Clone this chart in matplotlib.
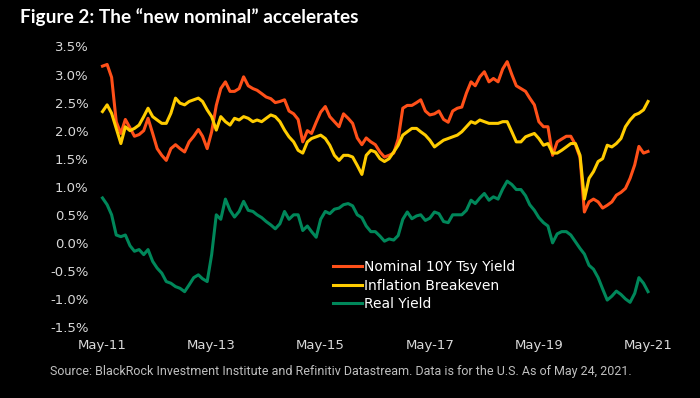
import matplotlib
matplotlib.use('Agg')
import matplotlib.pyplot as plt
import pandas as pd

# ---- data (monthly, May 2011 - May 2021), % ----
start_month = '2011-05-01'
nominal = [3.15, 3.18, 2.95, 2.16, 1.95, 2.20, 2.05, 1.90, 1.93, 2.00,
           2.22, 1.95, 1.68, 1.56, 1.47, 1.68, 1.75, 1.68, 1.62, 1.80,
           1.90, 2.02, 1.90, 1.68, 1.98, 2.45, 2.75, 2.87, 2.70, 2.70,
           2.75, 2.96, 2.80, 2.75, 2.72, 2.66, 2.60, 2.57, 2.50, 2.52,
           2.55, 2.35, 2.30, 2.20, 1.80, 2.00, 1.95, 2.15, 2.33, 2.43,
           2.25, 2.16, 2.07, 2.30, 2.22, 2.13, 1.87, 1.75, 1.87, 1.80,
           1.75, 1.62, 1.53, 1.56, 1.60, 1.85, 2.40, 2.45, 2.45, 2.50,
           2.55, 2.35, 2.28, 2.30, 2.35, 2.20, 2.15, 2.35, 2.40, 2.42,
           2.67, 2.87, 2.80, 2.96, 3.05, 2.87, 2.93, 2.87, 3.10, 3.23,
           3.00, 2.80, 2.75, 2.70, 2.58, 2.46, 2.16, 2.07, 2.07, 1.56,
           1.80, 1.85, 1.90, 1.90, 1.75, 1.52, 0.55, 0.73, 0.78, 0.73,
           0.62, 0.67, 0.73, 0.85, 0.90, 0.97, 1.15, 1.39, 1.72, 1.60, 1.63]
breakeven = [2.34, 2.46, 2.31, 2.04, 1.77, 2.07, 2.00, 2.04, 2.10, 2.25,
             2.40, 2.25, 2.19, 2.13, 2.13, 2.31, 2.58, 2.49, 2.46, 2.52,
             2.55, 2.58, 2.52, 2.37, 2.25, 2.01, 2.25, 2.16, 2.10, 2.22,
             2.19, 2.25, 2.22, 2.16, 2.19, 2.16, 2.22, 2.28, 2.25, 2.16,
             2.01, 1.89, 1.80, 1.65, 1.60, 1.80, 1.86, 1.89, 1.92, 1.86,
             1.74, 1.56, 1.47, 1.56, 1.56, 1.53, 1.38, 1.22, 1.56, 1.65,
             1.62, 1.50, 1.45, 1.50, 1.62, 1.74, 1.92, 1.98, 2.04, 2.04,
             1.98, 1.92, 1.83, 1.71, 1.77, 1.83, 1.86, 1.89, 1.92, 1.98,
             2.07, 2.16, 2.13, 2.19, 2.16, 2.13, 2.13, 2.13, 2.16, 2.16,
             1.98, 1.80, 1.80, 1.89, 1.92, 1.95, 1.86, 1.74, 1.77, 1.60,
             1.60, 1.65, 1.71, 1.77, 1.77, 1.56, 0.78, 1.15, 1.27, 1.45,
             1.50, 1.74, 1.71, 1.77, 1.86, 2.07, 2.19, 2.28, 2.31, 2.37, 2.52]
real = [0.80, 0.68, 0.50, 0.14, 0.11, 0.14, -0.05, -0.15, -0.12, -0.21,
        -0.12, -0.33, -0.45, -0.54, -0.69, -0.72, -0.78, -0.81, -0.87, -0.75,
        -0.62, -0.57, -0.64, -0.69, -0.21, 0.50, 0.42, 0.78, 0.58, 0.46,
        0.56, 0.74, 0.58, 0.56, 0.50, 0.45, 0.38, 0.32, 0.25, 0.34,
        0.56, 0.42, 0.50, 0.50, 0.22, 0.30, 0.20, 0.10, 0.42, 0.56,
        0.52, 0.60, 0.62, 0.68, 0.70, 0.66, 0.50, 0.45, 0.30, 0.20,
        0.20, 0.12, 0.03, 0.07, 0.05, 0.13, 0.42, 0.55, 0.43, 0.48,
        0.50, 0.40, 0.44, 0.55, 0.52, 0.38, 0.36, 0.50, 0.50, 0.50,
        0.58, 0.76, 0.70, 0.80, 0.88, 0.76, 0.82, 0.78, 0.96, 1.10,
        1.04, 0.95, 0.95, 0.84, 0.68, 0.58, 0.45, 0.36, 0.30, 0.00,
        0.16, 0.20, 0.20, 0.14, 0.02, -0.10, -0.20, -0.40, -0.47, -0.62,
        -0.82, -1.02, -0.95, -0.86, -0.92, -1.00, -1.06, -0.90, -0.62, -0.72, -0.87]

series_labels = ['Nominal 10Y Tsy Yield', 'Inflation Breakeven', 'Real Yield']
series_colors = ['#FF5019', '#FFCC00', '#00875A']

x_tick_dates = ['2011-05-01', '2013-05-01', '2015-05-01', '2017-05-01', '2019-05-01', '2021-05-01']
x_tick_labels = ['May-11', 'May-13', 'May-15', 'May-17', 'May-19', 'May-21']
y_ticks = [-1.5, -1.0, -0.5, 0.0, 0.5, 1.0, 1.5, 2.0, 2.5, 3.0, 3.5]

title = 'Figure 2: The \u201cnew nominal\u201d accelerates'
source = ('Source: BlackRock Investment Institute and Refinitiv Datastream. '
          'Data is for the U.S. As of May 24, 2021.')

# ---- figure ----
W, H = 700, 398
fig = plt.figure(figsize=(W / 100, H / 100), dpi=100, facecolor='black')
ax = fig.add_axes([102.5 / W, 1 - 327 / H, 545.5 / W, (327 - 46.5) / H])
ax.set_facecolor('black')

dates = pd.date_range(start_month, periods=len(nominal), freq='MS')
for vals, lab, col in zip([nominal, breakeven, real], series_labels, series_colors):
    ax.plot(dates, vals, color=col, lw=2.2, label=lab, clip_on=False,
            solid_joinstyle='round')

ax.set_xlim(pd.Timestamp(x_tick_dates[0]), pd.Timestamp(x_tick_dates[-1]))
ax.set_ylim(y_ticks[0], y_ticks[-1])
ax.set_xticks(pd.to_datetime(x_tick_dates))
ax.set_xticklabels(x_tick_labels)
ax.set_yticks(y_ticks)
ax.set_yticklabels([f'{v:.1f}%' for v in y_ticks])
ax.tick_params(axis='both', length=0, colors='#d9d9d9', labelsize=9.5)
ax.tick_params(axis='y', pad=10)
ax.tick_params(axis='x', pad=9)
for s in ax.spines.values():
    s.set_visible(False)

leg = ax.legend(loc='upper left', bbox_to_anchor=(333 / W, 1 - 260 / H),
                bbox_transform=fig.transFigure, frameon=False, fontsize=10,
                labelcolor='white', handlelength=2.1, handletextpad=0.15,
                labelspacing=0.33, borderpad=0, borderaxespad=0)

t_title = fig.text(20 / W, 1 - 17 / H, title, fontsize=13, fontweight='bold',
                   color='white', va='center', ha='left', family='Lato')
t_src = fig.text(50 / W, 1 - 372 / H, source, fontsize=9.5, color='#bfbfbf',
                 va='center', ha='left', family='Roboto')

# fit text widths to the reference layout
renderer = fig.canvas.get_renderer()
for t, target in [(t_title, 339.0), (t_src, 584.0)]:
    w = t.get_window_extent(renderer).width
    t.set_fontsize(t.get_fontsize() * target / w)

fig.savefig('out.png', dpi=100, facecolor='black')
